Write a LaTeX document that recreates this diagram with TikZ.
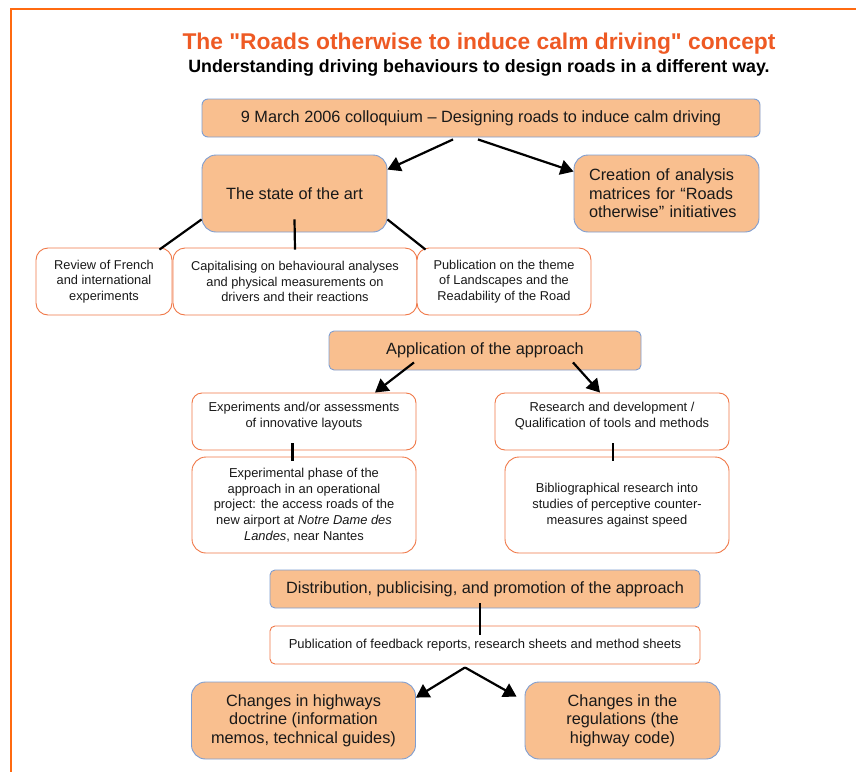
\documentclass[tikz,border=0pt]{standalone}
\usepackage{fontspec}
\setmainfont{Liberation Sans}
\newfontfamily\plainquotefont{Liberation Sans}[Ligatures=TeXOff]
\usetikzlibrary{arrows.meta}
\definecolor{frameor}{HTML}{FF6A10}
\definecolor{titleor}{HTML}{EE5A24}
\definecolor{peach}{HTML}{F9BF8F}
\definecolor{blueb}{HTML}{7E9ED2}
\definecolor{redb}{HTML}{F07848}
\tikzset{
  bigbox/.style={draw=blueb, fill=peach, line width=0.9pt, inner sep=0pt, align=center, text=black!90},
  smallbox/.style={draw=redb, fill=white, line width=0.9pt, inner sep=0pt, align=center, text=black!90},
  bigfont/.style={font=\fontsize{16.3}{18.5}\selectfont},
  smallfont/.style={font=\fontsize{12.8}{15.5}\selectfont},
  midfont/.style={font=\fontsize{12.9}{15.8}\selectfont},
  pubfont/.style={font=\fontsize{13}{15.5}\selectfont},
  conn/.style={line width=2.2pt, black},
  arr/.style={conn, -{Triangle[length=13pt,width=15pt]}},
  txt/.style={inner sep=0pt, align=center, text=black!90},
}
\begin{document}
\begin{tikzpicture}[x=1pt,y=-1pt]
\useasboundingbox (0,0) rectangle (856,771);
\draw[frameor, line width=2.2pt] (11,775) -- (11,9) -- (860,9);
% titles
\node[titleor, font=\plainquotefont\fontsize{22.8}{25}\selectfont\bfseries, inner sep=0pt] (title) at (479,44) {The "Roads otherwise to induce calm driving" concept};
\node[font=\fontsize{17.8}{19}\selectfont\bfseries, inner sep=0pt] (subtitle) at (479,68) {Understanding driving behaviours to design roads in a different way.};
% top
\node[bigbox, bigfont, rounded corners=6pt, minimum width=558pt, minimum height=38pt] (b1) at (481,118) {9 March 2006 colloquium -- Designing roads to induce calm driving};
\node[bigbox, bigfont, rounded corners=14pt, minimum width=185pt, minimum height=77pt] (state) at (294.5,193.5) {The state of the art};
\node[bigbox, bigfont, rounded corners=14pt, minimum width=185pt, minimum height=77pt, text width=155pt, align=left] (creation) at (666.5,193.5) {Creation of analysis\\matrices for “Roads\\otherwise” initiatives};
% small boxes
\node[smallbox, smallfont, rounded corners=12pt, minimum width=136pt, minimum height=67pt] (review) at (104,281.5) {Review of French\\and international\\experiments};
\node[smallbox, smallfont, rounded corners=12pt, minimum width=244pt, minimum height=67pt] (capital) at (295,281.5) {Capitalising on behavioural analyses\\and physical measurements on\\drivers and their reactions};
\node[smallbox, smallfont, rounded corners=12pt, minimum width=174pt, minimum height=67pt] (publi) at (504,281.5) {Publication on the theme\\of Landscapes and the\\Readability of the Road};
% application
\node[bigbox, bigfont, rounded corners=5pt, minimum width=312pt, minimum height=39pt] (app) at (485,350.5) {Application of the approach};
\node[smallbox, rounded corners=10pt, minimum width=224pt, minimum height=57pt] (exp) at (304,421.5) {};
\node[txt, midfont] (exptxt) at (304,416) {Experiments and/or assessments\\of innovative layouts};
\node[smallbox, rounded corners=10pt, minimum width=234pt, minimum height=57pt] (rd) at (612,421.5) {};
\node[txt, midfont] (rdtxt) at (612,416) {Research and development /\\Qualification of tools and methods};
\node[smallbox, midfont, rounded corners=14pt, minimum width=224pt, minimum height=96pt] (phase) at (304,505) {Experimental phase of the\\approach in an operational\\project: the access roads of the\\new airport at \textit{Notre Dame des}\\\textit{Landes}, near Nantes};
\node[smallbox, midfont, rounded corners=14pt, minimum width=224pt, minimum height=96pt] (biblio) at (617,505) {Bibliographical research into\\studies of perceptive counter-\\measures against speed};
% distribution
\node[bigbox, bigfont, rounded corners=5pt, minimum width=430pt, minimum height=38pt] (dist) at (485,589) {Distribution, publicising, and promotion of the approach};
\node[smallbox, pubfont, rounded corners=5pt, minimum width=430pt, minimum height=38pt] (pub) at (485,645) {Publication of feedback reports, research sheets and method sheets};
\node[bigbox, bigfont, rounded corners=14pt, minimum width=224pt, minimum height=77pt] (hw) at (303.5,720.5) {Changes in highways\\doctrine (information\\memos, technical guides)};
\node[bigbox, bigfont, rounded corners=14pt, minimum width=195pt, minimum height=77pt] (reg) at (622.5,720.5) {Changes in the\\regulations (the\\highway code)};
% connectors
\draw[arr] ([xshift=-28pt,yshift=-2pt]b1.south) -- ([yshift=-15pt]state.north east);
\draw[arr] ([xshift=-3pt,yshift=-2pt]b1.south) -- ([yshift=-17pt]creation.north west);
\draw[conn] ([yshift=13pt]state.south west) -- ([xshift=-13pt,yshift=-2pt]review.north east);
\draw[conn] ([yshift=13pt]state.south) -- ([yshift=-2pt]capital.north);
\draw[conn] ([yshift=13pt]state.south east) -- ([xshift=9pt,yshift=-2pt]publi.north west);
\draw[arr] ([xshift=-71pt,yshift=8pt]app.south) -- ([xshift=71pt]exp.north);
\draw[arr] ([xshift=88pt,yshift=8pt]app.south) -- ([xshift=-12pt]rd.north);
\draw[conn] ([xshift=-11.5pt,yshift=7pt]exp.south) -- ([xshift=-11.5pt,yshift=-4pt]phase.north);
\draw[conn] ([xshift=1pt,yshift=7pt]rd.south) -- ([xshift=-4pt,yshift=-4pt]biblio.north);
\draw[conn] ([xshift=-5pt,yshift=5pt]dist.south) -- ([xshift=-5pt,yshift=-9pt]pub.north);
\coordinate (apex) at ([xshift=-20pt,yshift=-3pt]pub.south);
\draw[arr] (apex) -- ([yshift=-16pt]hw.north east);
\draw[arr] (apex) -- ([xshift=-8pt,yshift=-15pt]reg.north west);
\end{tikzpicture}
\end{document}
